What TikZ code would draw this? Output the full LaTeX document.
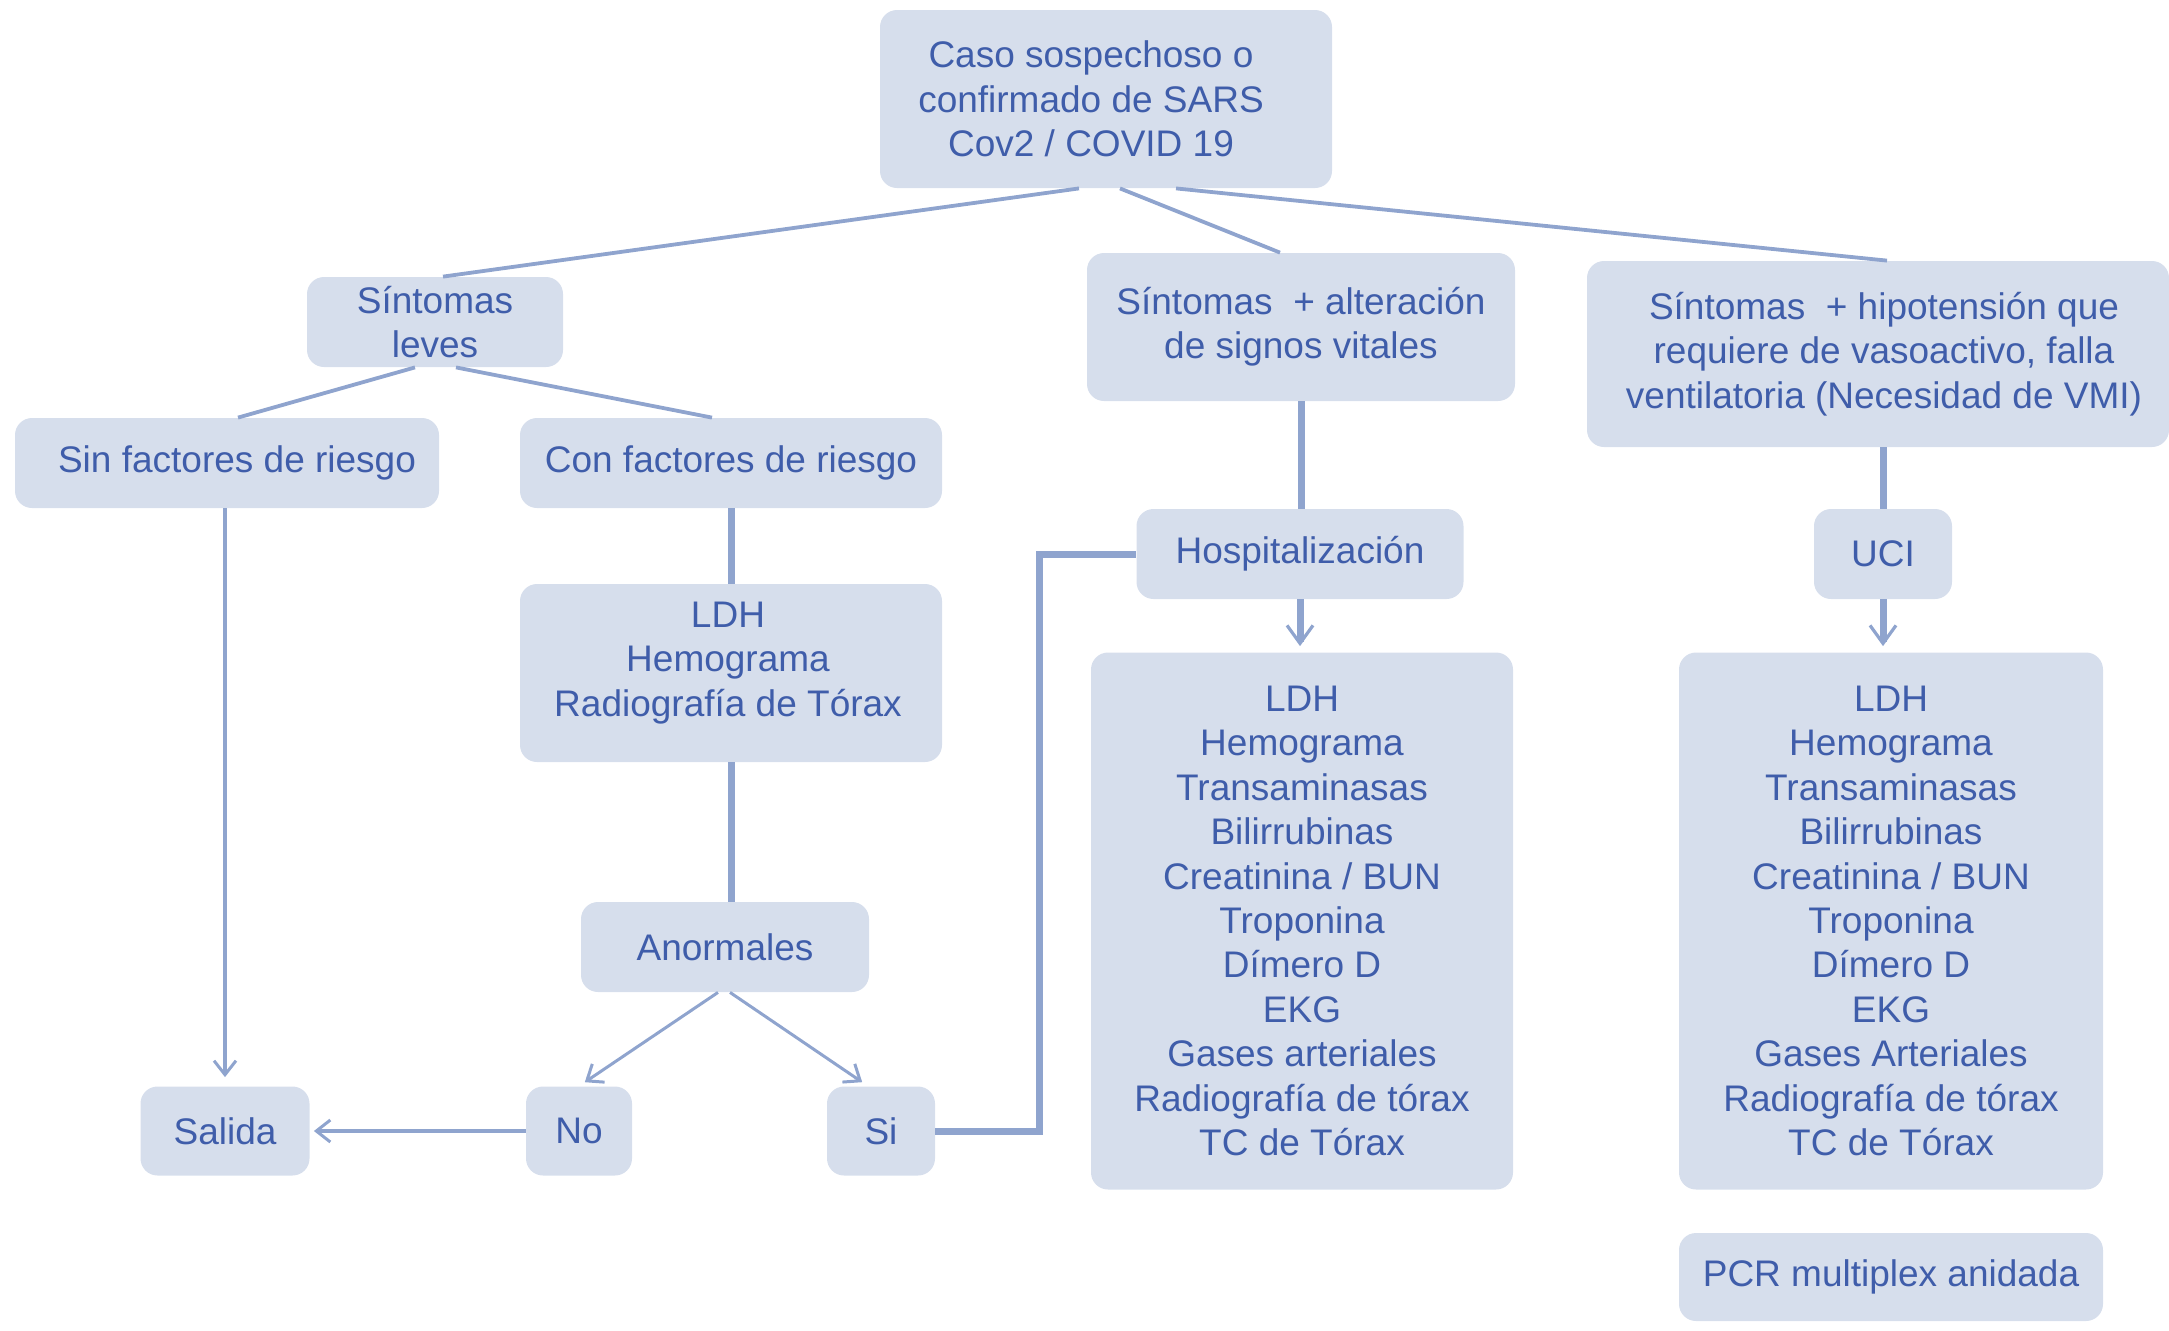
\documentclass[tikz,border=0pt]{standalone}
\usepackage{fontspec}
\setmainfont{Liberation Sans}
\usetikzlibrary{arrows.meta}
\definecolor{boxfill}{HTML}{D6DEEC}
\definecolor{txt}{HTML}{3F5DAA}
\definecolor{ln}{HTML}{8FA4CE}
\begin{document}
\begin{tikzpicture}[x=0.5pt,y=-0.5pt,
  bx/.style={fill=boxfill, draw=none, rounded corners=8.5pt, text=txt, align=center,
    font=\fontsize{18.5}{22.2}\selectfont, inner sep=0pt},
  lthin/.style={draw=ln, line width=1.9pt},
  lmid/.style={draw=ln, line width=1.8pt},
  lthinner/.style={draw=ln, line width=1.5pt},
  lthick/.style={draw=ln, line width=3.5pt},
  arr/.style={-{Straight Barb[length=7pt,width=11pt,line width=1.5pt]}},
  arrbig/.style={-{Straight Barb[length=9pt,width=13pt,line width=1.6pt]}}
]
\useasboundingbox (0,0) rectangle (2169,1330);

\node[bx, minimum width=226pt, minimum height=89pt] (top) at (1106,99)
  {Caso sospechoso o\kern15pt\\confirmado de SARS\kern15pt\\Cov2 / COVID 19\kern15pt};
\node[bx, minimum width=128pt, minimum height=45pt] (leves) at (435,322)
  {Síntomas\\leves};
\node[bx, minimum width=212pt, minimum height=45pt] (sin) at (227,463)
  {\hspace{10pt}Sin factores de riesgo};
\node[bx, minimum width=211pt, minimum height=45pt] (con) at (731,463)
  {Con factores de riesgo};
\node[bx, minimum width=214pt, minimum height=74pt] (alt) at (1301,327)
  {Síntomas~~+ alteración\\de signos vitales};
\node[bx, minimum width=291pt, minimum height=93pt] (hipo) at (1878,354)
  {\hspace{6pt}Síntomas~~+ hipotensión que\\\hspace{6pt}requiere de vasoactivo, falla\\\hspace{6pt}ventilatoria (Necesidad de VMI)};
\node[bx, minimum width=163.5pt, minimum height=45pt] (hosp) at (1300,554)
  {Hospitalización};
\node[bx, minimum width=69pt, minimum height=45pt] (uci) at (1883,554)
  {UCI};
\node[bx, minimum width=211pt, minimum height=89pt,
  label={[text=txt, align=center, font=\fontsize{18.5}{22.2}\selectfont, yshift=5pt, xshift=-1.5pt]center:LDH\\Hemograma\\Radiografía de Tórax}] (ldh) at (731,673) {};
\node[bx, minimum width=144pt, minimum height=45pt] (anorm) at (725,947)
  {Anormales};
\node[bx, minimum width=53pt, minimum height=44.5pt] (no) at (579,1131)
  {No};
\node[bx, minimum width=54pt, minimum height=44.5pt] (si) at (881,1131)
  {Si};
\node[bx, minimum width=84.5pt, minimum height=44.5pt] (salida) at (225,1131)
  {Salida};
\node[bx, minimum width=211pt, minimum height=268.5pt] (hlist) at (1302,921)
  {LDH\\Hemograma\\Transaminasas\\Bilirrubinas\\Creatinina / BUN\\Troponina\\Dímero D\\EKG\\Gases arteriales\\Radiografía de tórax\\TC de Tórax};
\node[bx, minimum width=212pt, minimum height=268.5pt] (ulist) at (1891,921)
  {LDH\\Hemograma\\Transaminasas\\Bilirrubinas\\Creatinina / BUN\\Troponina\\Dímero D\\EKG\\Gases Arteriales\\Radiografía de tórax\\TC de Tórax};
\node[bx, minimum width=212pt, minimum height=44pt] (pcr) at (1891,1277)
  {PCR multiplex anidada};

% connectors
\draw[lthin] ([xshift=-13.5pt]top.south) -- ([xshift=4pt]leves.north);
\draw[lthin] ([xshift=7pt]top.south) -- ([xshift=-10.5pt]alt.north);
\draw[lthin] ([xshift=35pt]top.south) -- ([xshift=4.5pt]hipo.north);
\draw[lthin] ([xshift=-10pt]leves.south) -- ([xshift=5.5pt]sin.north);
\draw[lthin] ([xshift=10.5pt]leves.south) -- ([xshift=-9.5pt]con.north);
\draw[lthick] (con.south) -- (ldh.north);
\draw[lthick] (ldh.south) -- (ldh.south |- anorm.north);
\draw[lthick] (alt.south) -- (alt.south |- hosp.north);
\draw[lthick] (uci.north |- hipo.south) -- (uci.north);
\draw[lthick, arrbig, shorten >=3pt] (hosp.south) -- (hosp.south |- hlist.north);
\draw[lthick, arrbig, shorten >=3pt] (uci.south) -- (uci.south |- ulist.north);
\draw[lmid, arr, shorten >=4.5pt] (salida.north |- sin.south) -- (salida.north);
\draw[lmid, arr, shorten >=2pt] (no.west) -- (salida.east);
\draw[lthinner, arr, shorten >=3.5pt] ([xshift=-3.5pt]anorm.south) -- (no.north);
\draw[lthinner, arr, shorten >=3.5pt] ([xshift=2.5pt]anorm.south) -- ([xshift=-6.5pt]si.north);
\draw[lthick] (si.east) -| ([xshift=-48.5pt]hosp.west) -- (hosp.west);
\end{tikzpicture}
\end{document}
